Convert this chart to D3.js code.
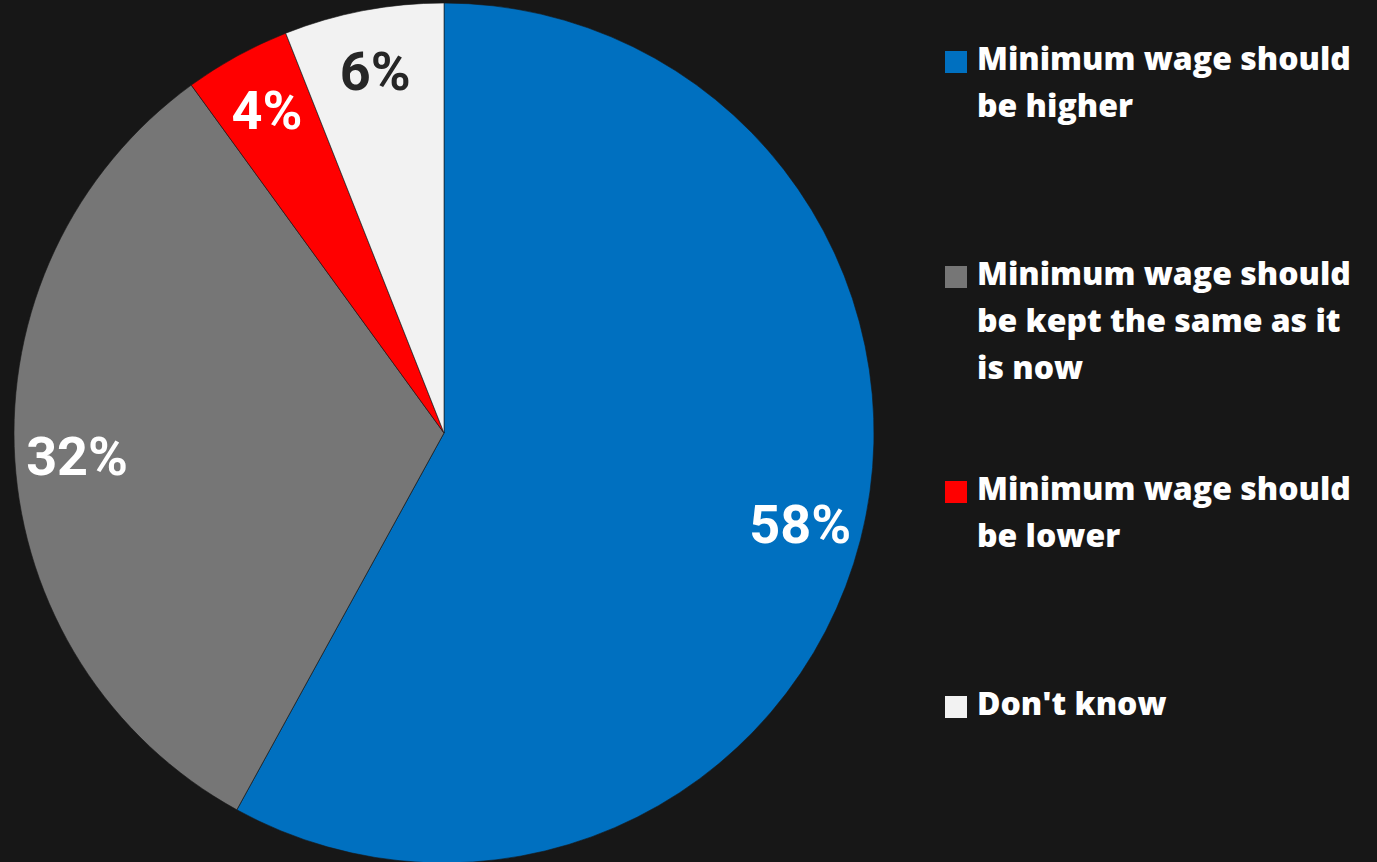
<!DOCTYPE html>
<html>
<head>
<meta charset="utf-8">
<script src="https://cdn.jsdelivr.net/npm/d3@7"></script>
<style>
  html, body { margin: 0; padding: 0; background: #171717; }
  svg { display: block; }
</style>
</head>
<body>
<svg id="chart" width="1377" height="862"></svg>
<script>
const categories = [
  "Minimum wage should be higher",
  "Minimum wage should be kept the same as it is now",
  "Minimum wage should be lower",
  "Don't know"
];
const values = [58, 32, 4, 6];
const colors = ["#0070C0", "#767676", "#FF0000", "#F2F2F2"];
const labelColors = ["#FFFFFF", "#FFFFFF", "#FFFFFF", "#262626"];
const legendLines = [
  ["Minimum wage should", "be higher"],
  ["Minimum wage should", "be kept the same as it", "is now"],
  ["Minimum wage should", "be lower"],
  ["Don't know"]
];

const svg = d3.select("#chart");
const W = 1377, H = 862;
svg.append("rect").attr("width", W).attr("height", H).attr("fill", "#171717");

const cx = 444, cy = 433, R = 430;
const data = categories.map((c, i) => ({ name: c, value: values[i], color: colors[i], lc: labelColors[i] }));

const pie = d3.pie().value(d => d.value).sort(null);
const arc = d3.arc().innerRadius(0).outerRadius(R);
const labelArc = d3.arc().innerRadius(R * 0.855).outerRadius(R * 0.855);

const g = svg.append("g").attr("transform", `translate(${cx},${cy})`);
const arcs = pie(data);

g.selectAll("path.slice").data(arcs).join("path")
  .attr("class", "slice")
  .attr("d", arc)
  .attr("fill", d => d.data.color)
  .attr("stroke", "rgba(23,23,23,0.6)")
  .attr("stroke-width", 1);

g.selectAll("text.lbl").data(arcs).join("text")
  .attr("class", "lbl")
  .attr("transform", d => `translate(${labelArc.centroid(d)})`)
  .attr("text-anchor", "middle")
  .attr("dominant-baseline", "central")
  .attr("font-family", "Roboto, 'Liberation Sans', sans-serif")
  .attr("font-weight", 700)
  .attr("font-size", 54)
  .attr("fill", d => d.data.lc)
  .text(d => d3.format(".0f")(d.data.value) + "%");

// Legend
const legX = 945, textX = 977, legTop = 70, itemGap = 215, lineH = 47;
const leg = svg.append("g");
data.forEach((d, i) => {
  const y0 = legTop + i * itemGap;
  leg.append("rect")
    .attr("x", legX).attr("y", y0 - 19)
    .attr("width", 22).attr("height", 22)
    .attr("fill", d.color);
  const t = leg.append("text")
    .attr("x", textX).attr("y", y0)
    .attr("font-family", "'Open Sans', 'Noto Sans', sans-serif")
    .attr("font-weight", 800)
    .attr("font-size", 31)
    .attr("fill", "#FFFFFF");
  legendLines[i].forEach((ln, j) => {
    t.append("tspan").attr("x", textX).attr("y", y0 + j * lineH).text(ln);
  });
});

// fit legend font so first line width matches ~374px
const first = leg.select("text tspan").node();
if (first) {
  const w = first.getComputedTextLength();
  const fs = 31 * 374 / w;
  leg.selectAll("text").attr("font-size", fs);
}
</script>
</body>
</html>
